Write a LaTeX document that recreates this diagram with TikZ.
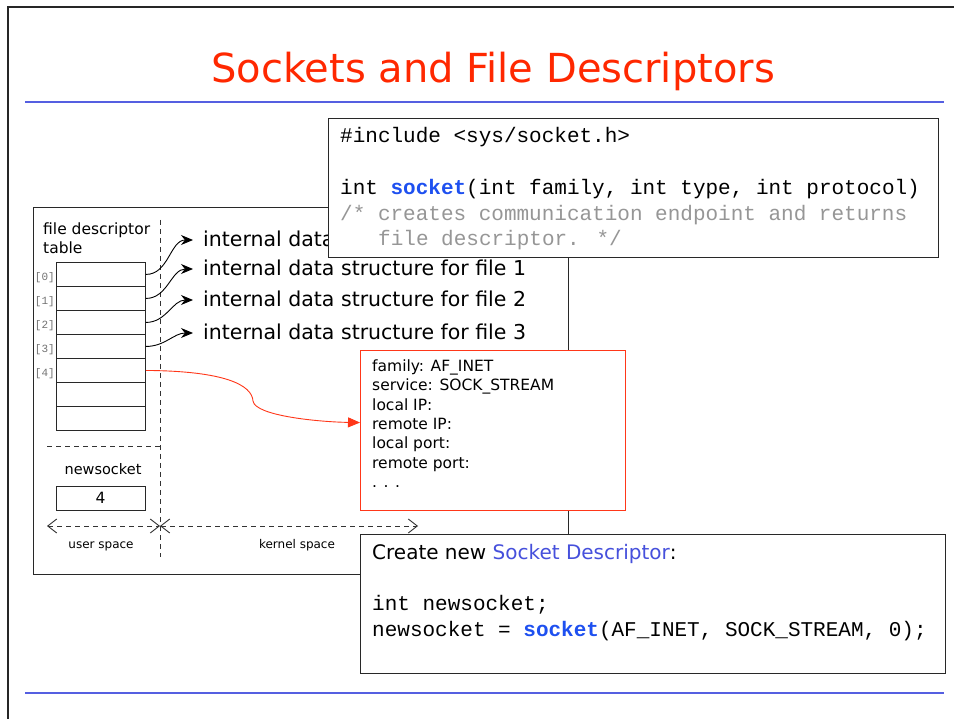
\documentclass[tikz,border=0pt]{standalone}
\usepackage{fontspec}
\setmainfont{DejaVu Sans}
\newfontfamily\codefont{Liberation Mono}
\usetikzlibrary{arrows.meta}
\definecolor{titlered}{RGB}{255,40,0}
\definecolor{ruleblue}{RGB}{85,95,225}
\definecolor{kwblue}{RGB}{30,80,240}
\definecolor{cmtgray}{RGB}{150,150,150}
\definecolor{sockred}{RGB}{255,55,25}
\definecolor{descblue}{RGB}{70,80,220}
\definecolor{frame}{RGB}{40,40,40}
\begin{document}
\begin{tikzpicture}[x=1pt,y=-1pt,
  txt/.style={inner sep=0pt, text height=1.5em, text depth=0.2em},
  code/.style={txt, anchor=west, font=\codefont\fontsize{21}{21}\selectfont},
  hand/.style={txt, font=\fontsize{#1}{#1}\selectfont},
  hand/.default=15.5,
  idx/.style={txt, anchor=east, text=black!55, font=\codefont\fontsize{11}{11}\selectfont},
  cell/.style={draw=frame, line width=0.9pt, minimum width=89pt, minimum height=24pt, inner sep=0pt, anchor=north west},
  panelbox/.style={draw=frame, line width=1pt, fill=white, inner sep=0pt, anchor=north west},
  sep/.style={dashed, dash pattern=on 5pt off 4pt, black!80, line width=0.9pt},
  span/.style={sep, {Straight Barb[length=9pt,width=14pt]}-{Straight Barb[length=9pt,width=14pt]}},
  link/.style={line width=0.9pt, -{Stealth[length=12pt,width=10pt]}},
]
\useasboundingbox (0,0) rectangle (954,719);
\fill[white] (0,0) rectangle (954,719);

% slide frame and rules
\draw[line width=1.5pt, black!85] (8,719) -- (8,7) -- (954,7);
\draw[ruleblue, line width=2.5pt] (25,102) -- (944,102);
\draw[ruleblue, line width=2.5pt] (25,693) -- (944,693);

% title
\node[txt, anchor=base, text=titlered, font=\fontsize{40}{40}\selectfont] (title) at (493,83) {Sockets and File Descriptors};

% left panel: descriptor table
\node[panelbox, minimum width=535pt, minimum height=367pt] (panel) at (33,207) {};
\node[hand, anchor=west] (fdt1) at (43,228) {file descriptor};
\node[hand, anchor=west] (fdt2) at (43,247) {table};

\foreach \i in {0,...,6} {
  \node[cell] (c\i) at (56,262+24*\i) {};
}
\foreach \i in {0,...,4} {
  \node[idx] (l\i) at ([xshift=-1pt]c\i.west) {[\i]};
}

% user / kernel separators
\coordinate (vtop) at (160,220);
\coordinate (vbot) at (160,557);
\coordinate (hl) at (47,446);
\coordinate (hr) at (160,446);
\draw[sep] (vtop) -- (vbot);
\draw[sep] (hl) -- (hr);

\node[hand=14.5] (nslabel) at (103,468) {newsocket};
\node[cell, anchor=center, font=\fontsize{15.5}{15.5}\selectfont] (ns) at (100.5,498) {4};

\coordinate (usL) at (47,526);
\coordinate (usM) at (160,526);
\coordinate (ksR) at (418,526);
\draw[span] (usL) -- (usM);
\draw[span] (usM) -- (ksR);
\node[hand=12] (user) at (101,542) {user space};
\node[hand=12] (kern) at (297,542) {kernel space};

% per-file kernel structures (the first one runs under the prototype box)
\node[hand=20.5, anchor=west] (ids0) at (203,240) {internal data};
\node[hand=20.5, anchor=west] (ids1) at (203,269) {internal data structure for file 1};
\node[hand=20.5, anchor=west] (ids2) at (203,300) {internal data structure for file 2};
\node[hand=20.5, anchor=west] (ids3) at (203,333) {internal data structure for file 3};
\foreach \i in {0,...,3} {
  \draw[link] (c\i.east) to[out=0,in=180] ([xshift=-10pt]ids\i.west);
}

% socket structure
\node[draw=sockred, line width=1.1pt, fill=white, minimum width=265pt, minimum height=160pt, inner sep=0pt, anchor=north west] (sock) at (360,350) {};
\foreach \t [count=\k from 0] in {family: AF\_INET, service: SOCK\_STREAM, local IP:, remote IP:, local port:, remote port:, . . .} {
  \node[hand=15.5, anchor=west] (f\k) at (372,365+19.3*\k) {\t};
}
\draw[sockred, line width=0.9pt, -{Triangle[length=12pt,width=10pt]}]
  (c4.east) .. controls (225,371) and (252,385) .. (253,401)
  .. controls (255,416) and (320,422) .. ([yshift=8pt]sock.west);

% prototype box
\node[panelbox, minimum width=610pt, minimum height=139pt] (proto) at (328,118) {};
\node[code] (p1) at (340,136) {\#include <sys/socket.h>};
\node[code] (p2) at (340,188) {int \textcolor{kwblue}{\textbf{socket}}(int family, int type, int protocol)};
\node[code, text=cmtgray] (p3) at (340,214) {/* creates communication endpoint and returns};
\node[code, text=cmtgray] (p4) at (378,239) {file descriptor. */};

% usage box
\node[panelbox, minimum width=585pt, minimum height=139pt] (usage) at (360,534) {};
\node[hand=20, anchor=west] (u1) at (372,553) {Create new \textcolor{descblue}{Socket Descriptor}:};
\node[code] (u2) at (372,604) {int newsocket;};
\node[code] (u3) at (372,630) {newsocket = \textcolor{kwblue}{\textbf{socket}}(AF\_INET, SOCK\_STREAM, 0);};
\end{tikzpicture}
\end{document}
